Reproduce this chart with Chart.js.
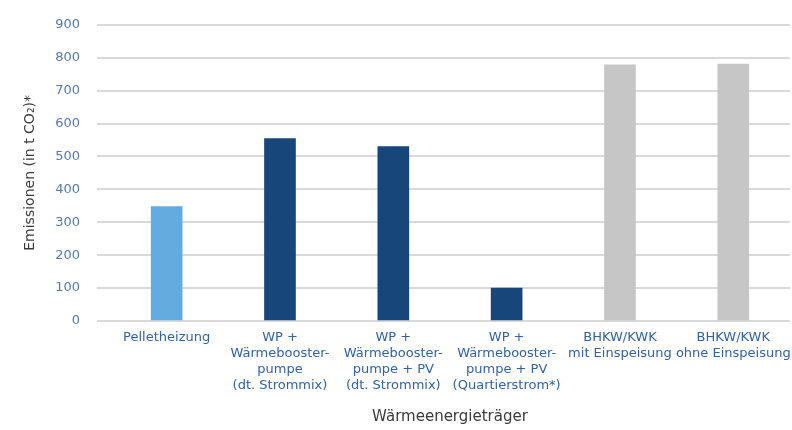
<!DOCTYPE html>
<html>
<head>
<meta charset="utf-8">
<script src="https://cdn.jsdelivr.net/npm/chart.js@4/dist/chart.umd.min.js"></script>
<style>
  html, body { margin: 0; padding: 0; overflow: hidden; background: #fff; }
  #wrap { width: 800px; height: 430px; }
</style>
</head>
<body>
<div id="wrap"><canvas id="grafico"></canvas></div>
<script>
const kategorien = [
  ['Pelletheizung'],
  ['WP +', 'Wärmebooster-', 'pumpe', '(dt. Strommix)'],
  ['WP +', 'Wärmebooster-', 'pumpe + PV', '(dt. Strommix)'],
  ['WP +', 'Wärmebooster-', 'pumpe + PV', '(Quartierstrom*)'],
  ['BHKW/KWK', 'mit Einspeisung'],
  ['BHKW/KWK', 'ohne Einspeisung']
];
const emissionen = [348, 554, 530, 100, 778, 781];
const farben = ['#62ace0', '#16467a', '#16467a', '#16467a', '#c6c6c6', '#c6c6c6'];
const yTicks = { min: 0, max: 900, step: 100 };

const schrift = '"DejaVu Sans", sans-serif';

const grafico = new Chart(document.getElementById('grafico'), {
  type: 'bar',
  data: {
    labels: kategorien,
    datasets: [{
      label: 'Emissionen',
      data: emissionen,
      backgroundColor: farben,
      barThickness: 31
    }]
  },
  options: {
    responsive: true,
    maintainAspectRatio: false,
    animation: false,
    layout: { padding: { top: 15, right: 4, left: 0, bottom: 0 } },
    plugins: {
      legend: { display: false },
      tooltip: { enabled: false }
    },
    scales: {
      x: {
        grid: { display: false, drawTicks: false },
        border: { display: false },
        ticks: {
          color: '#2f62a6',
          font: { family: schrift, size: 13, lineHeight: 1.22 },
          maxRotation: 0,
          autoSkip: false,
          padding: 9
        },
        title: {
          display: true,
          text: 'Wärmeenergieträger',
          color: '#3a3a3a',
          font: { family: schrift, size: 15 },
          padding: { top: 0, bottom: 4 }
        },
        afterFit: (scale) => { scale.height = 109; }
      },
      y: {
        min: yTicks.min,
        max: yTicks.max,
        grid: { color: '#d9d9d9', lineWidth: 2, drawTicks: true, tickLength: 13 },
        border: { display: false },
        ticks: {
          stepSize: yTicks.step,
          color: '#5379b0',
          font: { family: schrift, size: 13 },
          padding: 17
        },
        title: {
          display: true,
          text: 'Emissionen (in t CO₂)*',
          color: '#3a3a3a',
          font: { family: schrift, size: 14 },
          padding: { top: 22, bottom: 0 }
        },
        afterFit: (scale) => { scale.width = 110; }
      }
    }
  }
});
</script>
</body>
</html>
